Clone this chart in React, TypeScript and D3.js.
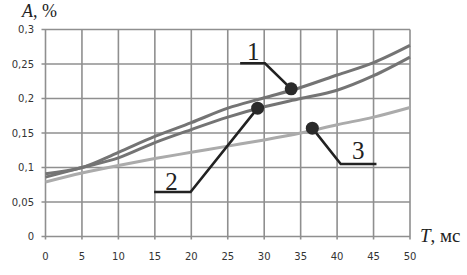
import React from 'react';
import * as d3 from 'd3';

// time, ms
const timeMs = [0, 5, 10, 15, 20, 25, 30, 35, 40, 45, 50];
// A, % for the three curves
const curve1 = [0.091, 0.1, 0.122, 0.145, 0.165, 0.186, 0.201, 0.216, 0.234, 0.252, 0.277];
const curve2 = [0.086, 0.1, 0.114, 0.136, 0.155, 0.173, 0.188, 0.2, 0.212, 0.233, 0.26];
const curve3 = [0.079, 0.092, 0.103, 0.113, 0.122, 0.131, 0.14, 0.15, 0.162, 0.173, 0.187];

const xTicks = [0, 5, 10, 15, 20, 25, 30, 35, 40, 45, 50];
const yTicks = [0, 0.05, 0.1, 0.15, 0.2, 0.25, 0.3];

// callouts: label, dot on curve, elbow, end of leader, label position (data units)
const calloutLabels = ['1', '2', '3'];
const calloutDots = [[33.7, 0.214], [29.1, 0.186], [36.6, 0.157]];
const calloutElbows = [[30.1, 0.251], [19.9, 0.0645], [40.5, 0.105]];
const calloutEnds = [[26.7, 0.251], [14.9, 0.0645], [45.4, 0.105]];
const calloutText = [[28.5, 0.256], [17.3, 0.067], [42.9, 0.113]];

const W = 467;
const H = 275;

const App = () => {
  const x = d3.scaleLinear().domain([0, 50]).range([45.5, 410]);
  const y = d3.scaleLinear().domain([0, 0.3]).range([236.5, 29.5]);

  const line = d3
    .line<number>()
    .x((d, i) => x(timeMs[i]))
    .y((d) => y(d))
    .curve(d3.curveMonotoneX);

  const series = [
    { values: curve3, color: '#ababab' },
    { values: curve2, color: '#747474' },
    { values: curve1, color: '#747474' },
  ];

  const fmt = (v: number) => String(+v.toFixed(2)).replace('.', ',');

  return (
    <svg width={W} height={H} style={{ position: 'absolute', left: 0, top: 0, background: '#fff' }}>
      {/* grid */}
      <g stroke="#8f8f8f" strokeWidth={1.6}>
        {xTicks.map((t) => (
          <line key={'gx' + t} x1={x(t)} x2={x(t)} y1={y(0.3)} y2={y(0) + 3} />
        ))}
        {yTicks.map((t) => (
          <line key={'gy' + t} x1={x(0) - 4} x2={x(50)} y1={y(t)} y2={y(t)} />
        ))}
      </g>

      {/* tick labels */}
      <g fontFamily="DejaVu Sans" fontSize={10} fill="#333">
        {yTicks.map((t) => (
          <text key={'ly' + t} x={34} y={y(t)} dy="0.35em" textAnchor="end">
            {fmt(t)}
          </text>
        ))}
        {xTicks.map((t) => (
          <text key={'lx' + t} x={x(t)} y={256} dy="0.35em" textAnchor="middle">
            {t}
          </text>
        ))}
      </g>

      {/* curves */}
      {series.map((s, i) => (
        <path key={i} d={line(s.values) || ''} fill="none" stroke={s.color} strokeWidth={3} />
      ))}

      {/* callouts */}
      {calloutLabels.map((lab, i) => (
        <g key={'c' + lab}>
          <polyline
            points={[calloutEnds[i], calloutElbows[i], calloutDots[i]]
              .map((p) => `${x(p[0])},${y(p[1])}`)
              .join(' ')}
            fill="none"
            stroke="#222"
            strokeWidth={2.6}
          />
          <circle cx={x(calloutDots[i][0])} cy={y(calloutDots[i][1])} r={6.5} fill="#2a2a2a" />
          <text
            x={x(calloutText[i][0])}
            y={y(calloutText[i][1])}
            textAnchor="middle"
            fontFamily="Liberation Serif"
            fontSize={25}
            fill="#222"
          >
            {lab}
          </text>
        </g>
      ))}

      {/* axis titles */}
      <text x={22} y={17} fontFamily="Liberation Serif" fontSize={18} fill="#222">
        <tspan fontStyle="italic">A</tspan>, %
      </text>
      <text x={420} y={241.5} fontFamily="Liberation Serif" fontSize={19} fill="#222">
        <tspan fontStyle="italic">T</tspan>, мс
      </text>
    </svg>
  );
};

export default App;
